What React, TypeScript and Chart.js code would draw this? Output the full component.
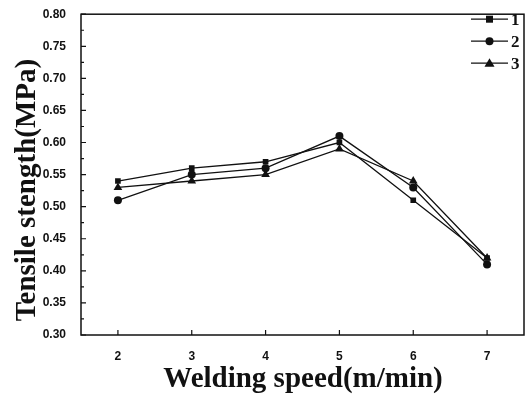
import React, { useEffect, useRef } from "react";
import { Chart, registerables } from "chart.js";

Chart.register(...registerables);

const speeds = [2, 3, 4, 5, 6, 7];
const series1 = [0.54, 0.56, 0.57, 0.6, 0.51, 0.42];
const series2 = [0.51, 0.55, 0.56, 0.61, 0.53, 0.41];
const series3 = [0.53, 0.54, 0.55, 0.59, 0.54, 0.42];
const seriesLabels = ["1", "2", "3"];
const markerStyles = ["rect", "circle", "triangle"];
const xTickValues = [2, 3, 4, 5, 6, 7];
const yTickValues = [0.3, 0.35, 0.4, 0.45, 0.5, 0.55, 0.6, 0.65, 0.7, 0.75, 0.8];
const yMinorValues = [0.325, 0.375, 0.425, 0.475, 0.525, 0.575, 0.625, 0.675, 0.725, 0.775];
const xTitle = "Welding speed(m/min)";
const yTitle = "Tensile stength(MPa)";

const INK = "#111";

const framePlugin = {
  id: "framePlugin",
  afterDraw(chart: any) {
    const { ctx, chartArea, scales } = chart;
    const { left, right, top, bottom } = chartArea;
    ctx.save();
    ctx.strokeStyle = INK;
    ctx.lineWidth = 1.5;
    ctx.strokeRect(left, top, right - left, bottom - top);
    ctx.lineWidth = 1.2;
    ctx.beginPath();
    xTickValues.forEach((v) => {
      const x = scales.x.getPixelForValue(v);
      ctx.moveTo(x, bottom);
      ctx.lineTo(x, bottom - 5);
    });
    yTickValues.forEach((v) => {
      const y = scales.y.getPixelForValue(v);
      ctx.moveTo(left, y);
      ctx.lineTo(left + 5, y);
    });
    yMinorValues.forEach((v) => {
      const y = scales.y.getPixelForValue(v);
      ctx.moveTo(left, y);
      ctx.lineTo(left + 3, y);
    });
    ctx.stroke();

    // legend
    const dsets = chart.data.datasets;
    const rowYs = [top + 5, top + 27, top + 49];
    dsets.forEach((ds: any, i: number) => {
      const y = rowYs[i];
      const x0 = right - 53;
      const x1 = right - 16;
      ctx.beginPath();
      ctx.lineWidth = 1.3;
      ctx.moveTo(x0, y);
      ctx.lineTo(x1, y);
      ctx.stroke();
      ctx.fillStyle = INK;
      const mx = (x0 + x1) / 2;
      const st = ds.pointStyle;
      ctx.beginPath();
      if (st === "rect") {
        ctx.rect(mx - 3.5, y - 3.5, 7, 7);
      } else if (st === "circle") {
        ctx.arc(mx, y, 4, 0, Math.PI * 2);
      } else {
        ctx.moveTo(mx, y - 5);
        ctx.lineTo(mx + 5, y + 3.5);
        ctx.lineTo(mx - 5, y + 3.5);
        ctx.closePath();
      }
      ctx.fill();
      ctx.font = "bold 17px 'Liberation Serif', serif";
      ctx.textAlign = "left";
      ctx.textBaseline = "middle";
      ctx.fillText(ds.label, x1 + 3, y + 1);
    });

    // titles
    ctx.fillStyle = INK;
    ctx.font = "bold 29px 'Liberation Serif', serif";
    ctx.textAlign = "center";
    ctx.textBaseline = "middle";
    ctx.fillText(xTitle, 303, 380);
    ctx.save();
    ctx.translate(28, 190);
    ctx.rotate(-Math.PI / 2);
    ctx.fillText(yTitle, 0, 0);
    ctx.restore();
    ctx.restore();
  },
};

export default function App() {
  const ref = useRef<HTMLCanvasElement>(null);
  useEffect(() => {
    if (!ref.current) return;
    const mk = (label: string, data: number[], style: string, r: number) => ({
      label,
      data: speeds.map((s, i) => ({ x: s, y: data[i] })),
      borderColor: INK,
      backgroundColor: INK,
      borderWidth: 1.3,
      pointStyle: style,
      pointRadius: r,
      pointBorderWidth: 0,
      pointBackgroundColor: INK,
      tension: 0,
    });
    const chart = new Chart(ref.current, {
      type: "line",
      data: {
        datasets: [
          mk(seriesLabels[0], series1, markerStyles[0], 4),
          mk(seriesLabels[1], series2, markerStyles[1], 4),
          mk(seriesLabels[2], series3, markerStyles[2], 5),
        ],
      },
      options: {
        animation: false,
        responsive: false,
        layout: { padding: { top: 12, right: 3, left: 0, bottom: 0 } },
        plugins: { legend: { display: false }, tooltip: { enabled: false } },
        scales: {
          x: {
            type: "linear",
            min: 1.5,
            max: 7.5,
            afterBuildTicks: (s: any) => {
              s.ticks = xTickValues.map((v) => ({ value: v }));
            },
            afterFit: (s: any) => {
              s.height = 63;
            },
            grid: { display: false },
            border: { display: false },
            ticks: {
              color: INK,
              font: { family: "'Liberation Sans', Arial, sans-serif", size: 12, weight: "bold" },
              padding: 6,
              maxRotation: 0,
              callback: (v: any) => String(v),
            },
          },
          y: {
            min: 0.3,
            max: 0.8,
            afterBuildTicks: (s: any) => {
              s.ticks = yTickValues.map((v) => ({ value: v }));
            },
            afterFit: (s: any) => {
              s.width = 81;
            },
            grid: { display: false },
            border: { display: false },
            ticks: {
              color: INK,
              font: { family: "'Liberation Sans', Arial, sans-serif", size: 12, weight: "bold" },
              padding: 7,
              callback: (v: any) => Number(v).toFixed(2),
            },
          },
        },
      },
      plugins: [framePlugin],
    } as any);
    return () => chart.destroy();
  }, []);
  return (
    <div style={{ position: "fixed", left: 0, top: 0, width: 529, height: 398, background: "#fff" }}>
      <canvas ref={ref} width={529} height={398} style={{ width: 529, height: 398 }} />
    </div>
  );
}
